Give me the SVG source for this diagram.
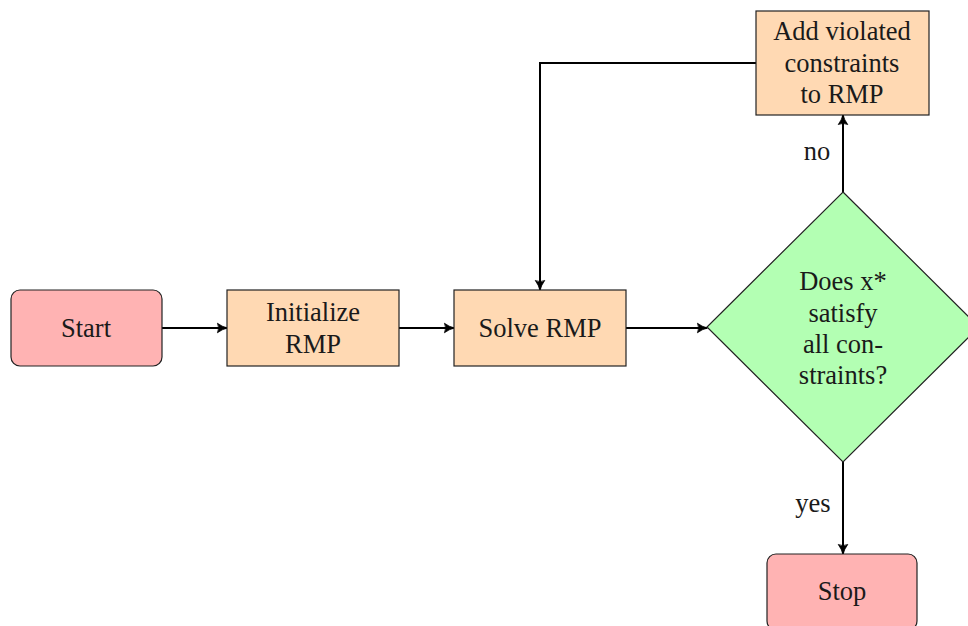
<svg xmlns="http://www.w3.org/2000/svg" width="968" height="626" viewBox="0 0 968 626">
<defs>
<marker id="arr" viewBox="0 0 10 10" refX="9" refY="5" markerWidth="6" markerHeight="6" orient="auto" markerUnits="strokeWidth">
<path d="M1,1 Q5,4 9.5,5 Q5,6 1,9 Q3,5 1,1 Z" fill="#000" stroke="#000" stroke-width="0.6" stroke-linejoin="round"/>
</marker>
<style>
.term{fill:#ffb3b3;stroke:#222;stroke-width:1.2}
.proc{fill:#ffd9b3;stroke:#222;stroke-width:1.2}
.dec{fill:#b3ffb3;stroke:#222;stroke-width:1.2}
.edge{fill:none;stroke:#000;stroke-width:2;marker-end:url(#arr)}
</style>
</defs>
<rect width="968" height="626" fill="#fff"/>
<g font-family="Liberation Serif, Times New Roman, serif" font-size="26.5" fill="#1a1a1a" text-anchor="middle">
<g id="connectors">
<line class="edge" x1="162" y1="328" x2="227" y2="328"/>
<line class="edge" x1="399" y1="328" x2="454" y2="328"/>
<line class="edge" x1="626" y1="328" x2="707" y2="328"/>
<line class="edge" x1="843" y1="192" x2="843" y2="115"/>
<line class="edge" x1="843" y1="462" x2="843" y2="554"/>
<polyline class="edge" points="756,63 540,63 540,290"/>
<text x="817" y="160">no</text>
<text x="813" y="512">yes</text>
</g>
<g id="start">
<rect class="term" x="11" y="290" width="151" height="76" rx="9"/>
<text x="86" y="337">Start</text>
</g>
<g id="init">
<rect class="proc" x="227" y="290" width="172" height="76"/>
<text x="313" y="321">Initialize</text>
<text x="313" y="353">RMP</text>
</g>
<g id="solve">
<rect class="proc" x="454" y="290" width="172" height="76"/>
<text x="540" y="337">Solve RMP</text>
</g>
<g id="decision">
<polygon class="dec" points="843,192 979,327 843,462 707,327"/>
<text x="843" y="290">Does x*</text>
<text x="843" y="322">satisfy</text>
<text x="843" y="353">all con-</text>
<text x="843" y="384">straints?</text>
</g>
<g id="add">
<rect class="proc" x="756" y="11" width="173" height="104"/>
<text x="842" y="40">Add violated</text>
<text x="842" y="72">constraints</text>
<text x="842" y="103">to RMP</text>
</g>
<g id="stop">
<rect class="term" x="767" y="554" width="150" height="76" rx="9"/>
<text x="842" y="600">Stop</text>
</g>
</g>
</svg>
